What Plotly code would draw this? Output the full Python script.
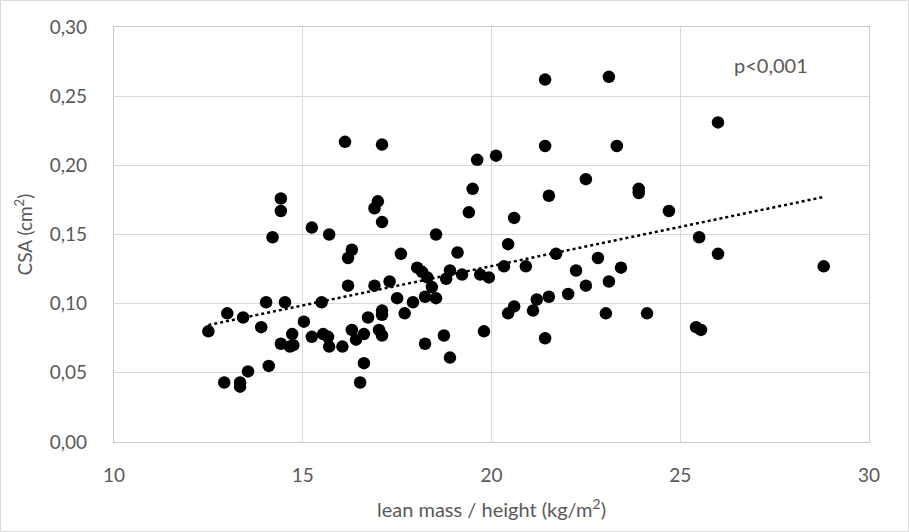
import numpy as np
import plotly.graph_objects as go

lean_mass = [12.5, 12.92, 13.0, 13.34, 13.34, 13.42, 13.55, 13.9, 14.03, 14.1,
             14.2, 14.42, 14.42, 14.42, 14.53, 14.66, 14.72, 14.75, 15.03, 15.24,
             15.24, 15.5, 15.54, 15.67, 15.7, 15.7, 16.05, 16.12, 16.2, 16.2,
             16.3, 16.3, 16.41, 16.52, 16.62, 16.62, 16.73, 16.9, 16.99, 16.9,
             17.02, 17.1, 17.1, 17.1, 17.1, 17.1, 17.3, 17.5, 17.6, 17.7,
             17.92, 18.03, 18.16, 18.24, 18.24, 18.3, 18.42, 18.53, 18.53, 18.74,
             18.8, 18.9, 18.9, 19.1, 19.22, 19.4, 19.5, 19.62, 19.7, 19.8,
             19.93, 20.12, 20.33, 20.44, 20.44, 20.6, 20.6, 20.91, 21.1, 21.2,
             21.42, 21.42, 21.42, 21.52, 21.52, 21.71, 22.03, 22.24, 22.5, 22.5,
             22.82, 23.03, 23.11, 23.11, 23.32, 23.43, 23.9, 23.9, 24.12, 24.7,
             25.42, 25.55, 25.5, 26.0, 26.0, 28.8]
csa = [0.080, 0.043, 0.093, 0.043, 0.040, 0.090, 0.051, 0.083, 0.101, 0.055,
       0.148, 0.176, 0.167, 0.071, 0.101, 0.069, 0.078, 0.070, 0.087, 0.155,
       0.076, 0.101, 0.078, 0.076, 0.069, 0.150, 0.069, 0.217, 0.113, 0.133,
       0.139, 0.081, 0.074, 0.043, 0.078, 0.057, 0.090, 0.169, 0.174, 0.113,
       0.081, 0.077, 0.215, 0.159, 0.095, 0.092, 0.116, 0.104, 0.136, 0.093,
       0.101, 0.126, 0.123, 0.071, 0.105, 0.119, 0.112, 0.104, 0.150, 0.077,
       0.118, 0.124, 0.061, 0.137, 0.121, 0.166, 0.183, 0.204, 0.121, 0.080,
       0.119, 0.207, 0.127, 0.093, 0.143, 0.098, 0.162, 0.127, 0.095, 0.103,
       0.075, 0.262, 0.214, 0.105, 0.178, 0.136, 0.107, 0.124, 0.190, 0.113,
       0.133, 0.093, 0.116, 0.264, 0.214, 0.126, 0.183, 0.180, 0.093, 0.167,
       0.083, 0.081, 0.148, 0.136, 0.231, 0.127]

x_ticks = [10, 15, 20, 25, 30]
y_ticks = [0.00, 0.05, 0.10, 0.15, 0.20, 0.25, 0.30]
p_text = "p<0,001"

# linear trendline from the data
slope, intercept = np.polyfit(lean_mass, csa, 1)
x_fit = np.array([min(lean_mass), max(lean_mass)])
y_fit = slope * x_fit + intercept

FONT = "Lato, 'Open Sans', sans-serif"
GREY = "#595959"
GRID = "#d9d9d9"

fig = go.Figure()
fig.add_trace(go.Scatter(
    x=x_fit, y=y_fit, mode="lines",
    line=dict(color="black", width=2.5, dash="dot"),
    hoverinfo="skip", showlegend=False))
fig.add_trace(go.Scatter(
    x=lean_mass, y=csa, mode="markers",
    marker=dict(color="black", size=12.5),
    showlegend=False))

fig.add_annotation(x=27.4, y=0.2726, text=p_text, showarrow=False,
                   font=dict(family=FONT, size=20, color=GREY))

# outer chart border
fig.add_shape(type="rect", xref="paper", yref="paper",
              x0=-0.1503, x1=1.0523, y0=-0.2157, y1=1.0639,
              line=dict(color=GRID, width=1), layer="below")

fig.update_layout(
    width=909, height=532,
    margin=dict(l=114, r=40, t=27, b=90),
    paper_bgcolor="white", plot_bgcolor="white",
    separators=", ",
    font=dict(family=FONT, size=18, color=GREY),
    xaxis=dict(range=[10, 30], tickvals=x_ticks, showgrid=True,
               gridcolor=GRID, gridwidth=1.3, zeroline=False,
               showline=True, linecolor="#c8c8c8", linewidth=1.3, mirror=True,
               ticks="", ticklabelstandoff=16, automargin=False,
               tickfont=dict(size=19, color=GREY),
               title=dict(text="lean mass / height (kg/m<sup>2</sup>)",
                          font=dict(size=20, color=GREY), standoff=18)),
    yaxis=dict(range=[0, 0.30], tickvals=y_ticks, tickformat=".2f",
               showgrid=True, gridcolor=GRID, gridwidth=1.3, zeroline=False,
               showline=True, linecolor="#c8c8c8", linewidth=1.3, mirror=True,
               ticks="", ticklabelstandoff=22, automargin=False,
               tickfont=dict(size=19, color=GREY),
               title=dict(text="CSA (cm<sup>2</sup>)",
                          font=dict(size=19, color=GREY), standoff=12)),
)

fig.write_html("out.html",
               config={"displayModeBar": False},
               post_script="document.body.style.margin='0';"
                           "document.body.style.padding='0';")
